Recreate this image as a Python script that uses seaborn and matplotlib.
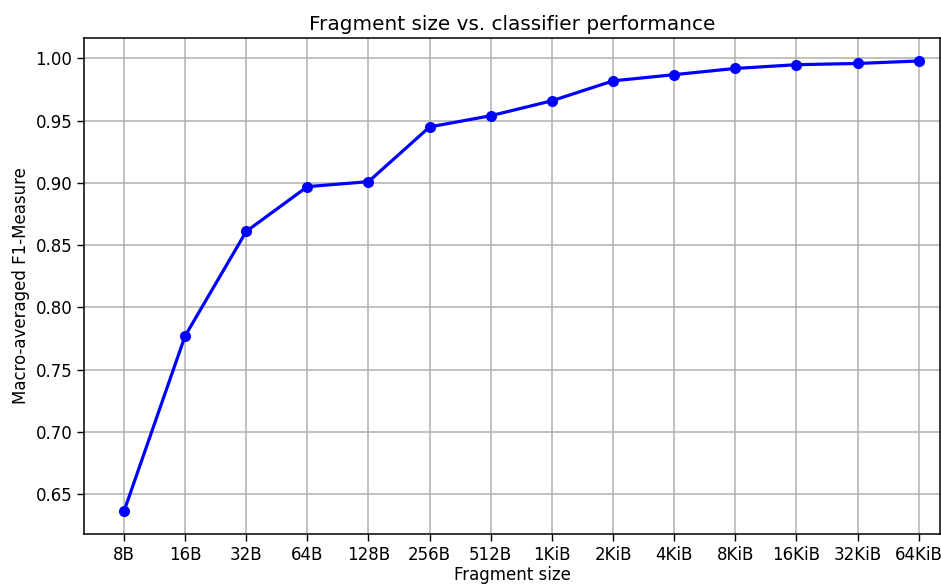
import pandas as pd
import seaborn as sns
import matplotlib
matplotlib.use('Agg')
import matplotlib.pyplot as plt

sizes = ['8B', '16B', '32B', '64B', '128B', '256B', '512B', '1KiB', '2KiB',
         '4KiB', '8KiB', '16KiB', '32KiB', '64KiB']
f1_scores = [0.636, 0.777, 0.861, 0.897, 0.901, 0.945, 0.954, 0.966, 0.982,
             0.987, 0.992, 0.995, 0.996, 0.998]
yticks = [0.65, 0.70, 0.75, 0.80, 0.85, 0.90, 0.95, 1.00]

df = pd.DataFrame({'size': sizes, 'f1': f1_scores})
df['pos'] = range(len(df))

sns.set_style("ticks")
plt.rcParams['font.family'] = ['DejaVu Sans']
plt.rcParams['text.color'] = 'black'
plt.rcParams['axes.labelcolor'] = 'black'
plt.rcParams['xtick.color'] = 'black'
plt.rcParams['ytick.color'] = 'black'

fig, ax = plt.subplots(figsize=(9.41, 5.84), dpi=100)
fig.subplots_adjust(left=0.0895, right=0.999, top=0.935, bottom=0.086)

sns.lineplot(x='pos', y='f1', data=df, color='blue', linewidth=2.3,
             marker='o', markersize=8, markeredgewidth=0, ax=ax)

ax.set_xticks(df['pos'])
ax.set_xticklabels(sizes, fontsize=12)
ax.set_yticks(yticks)
ax.set_yticklabels([f'{v:.2f}' for v in yticks], fontsize=12)
ax.tick_params(length=5, width=1, color='black')
ax.set_xlim(-0.65, 13.35)
ax.set_ylim(0.618, 1.0165)
ax.grid(True, color='#b0b0b0', linewidth=1.1)
ax.set_axisbelow(True)
for s in ax.spines.values():
    s.set_linewidth(1.1)
    s.set_color('black')

ax.set_title('Fragment size vs. classifier performance', fontsize=14.4, color='black')
ax.set_xlabel('Fragment size', fontsize=12, labelpad=1.5)
ax.set_ylabel('Macro-averaged F1-Measure', fontsize=12)

plt.savefig('out.png', dpi=100)
